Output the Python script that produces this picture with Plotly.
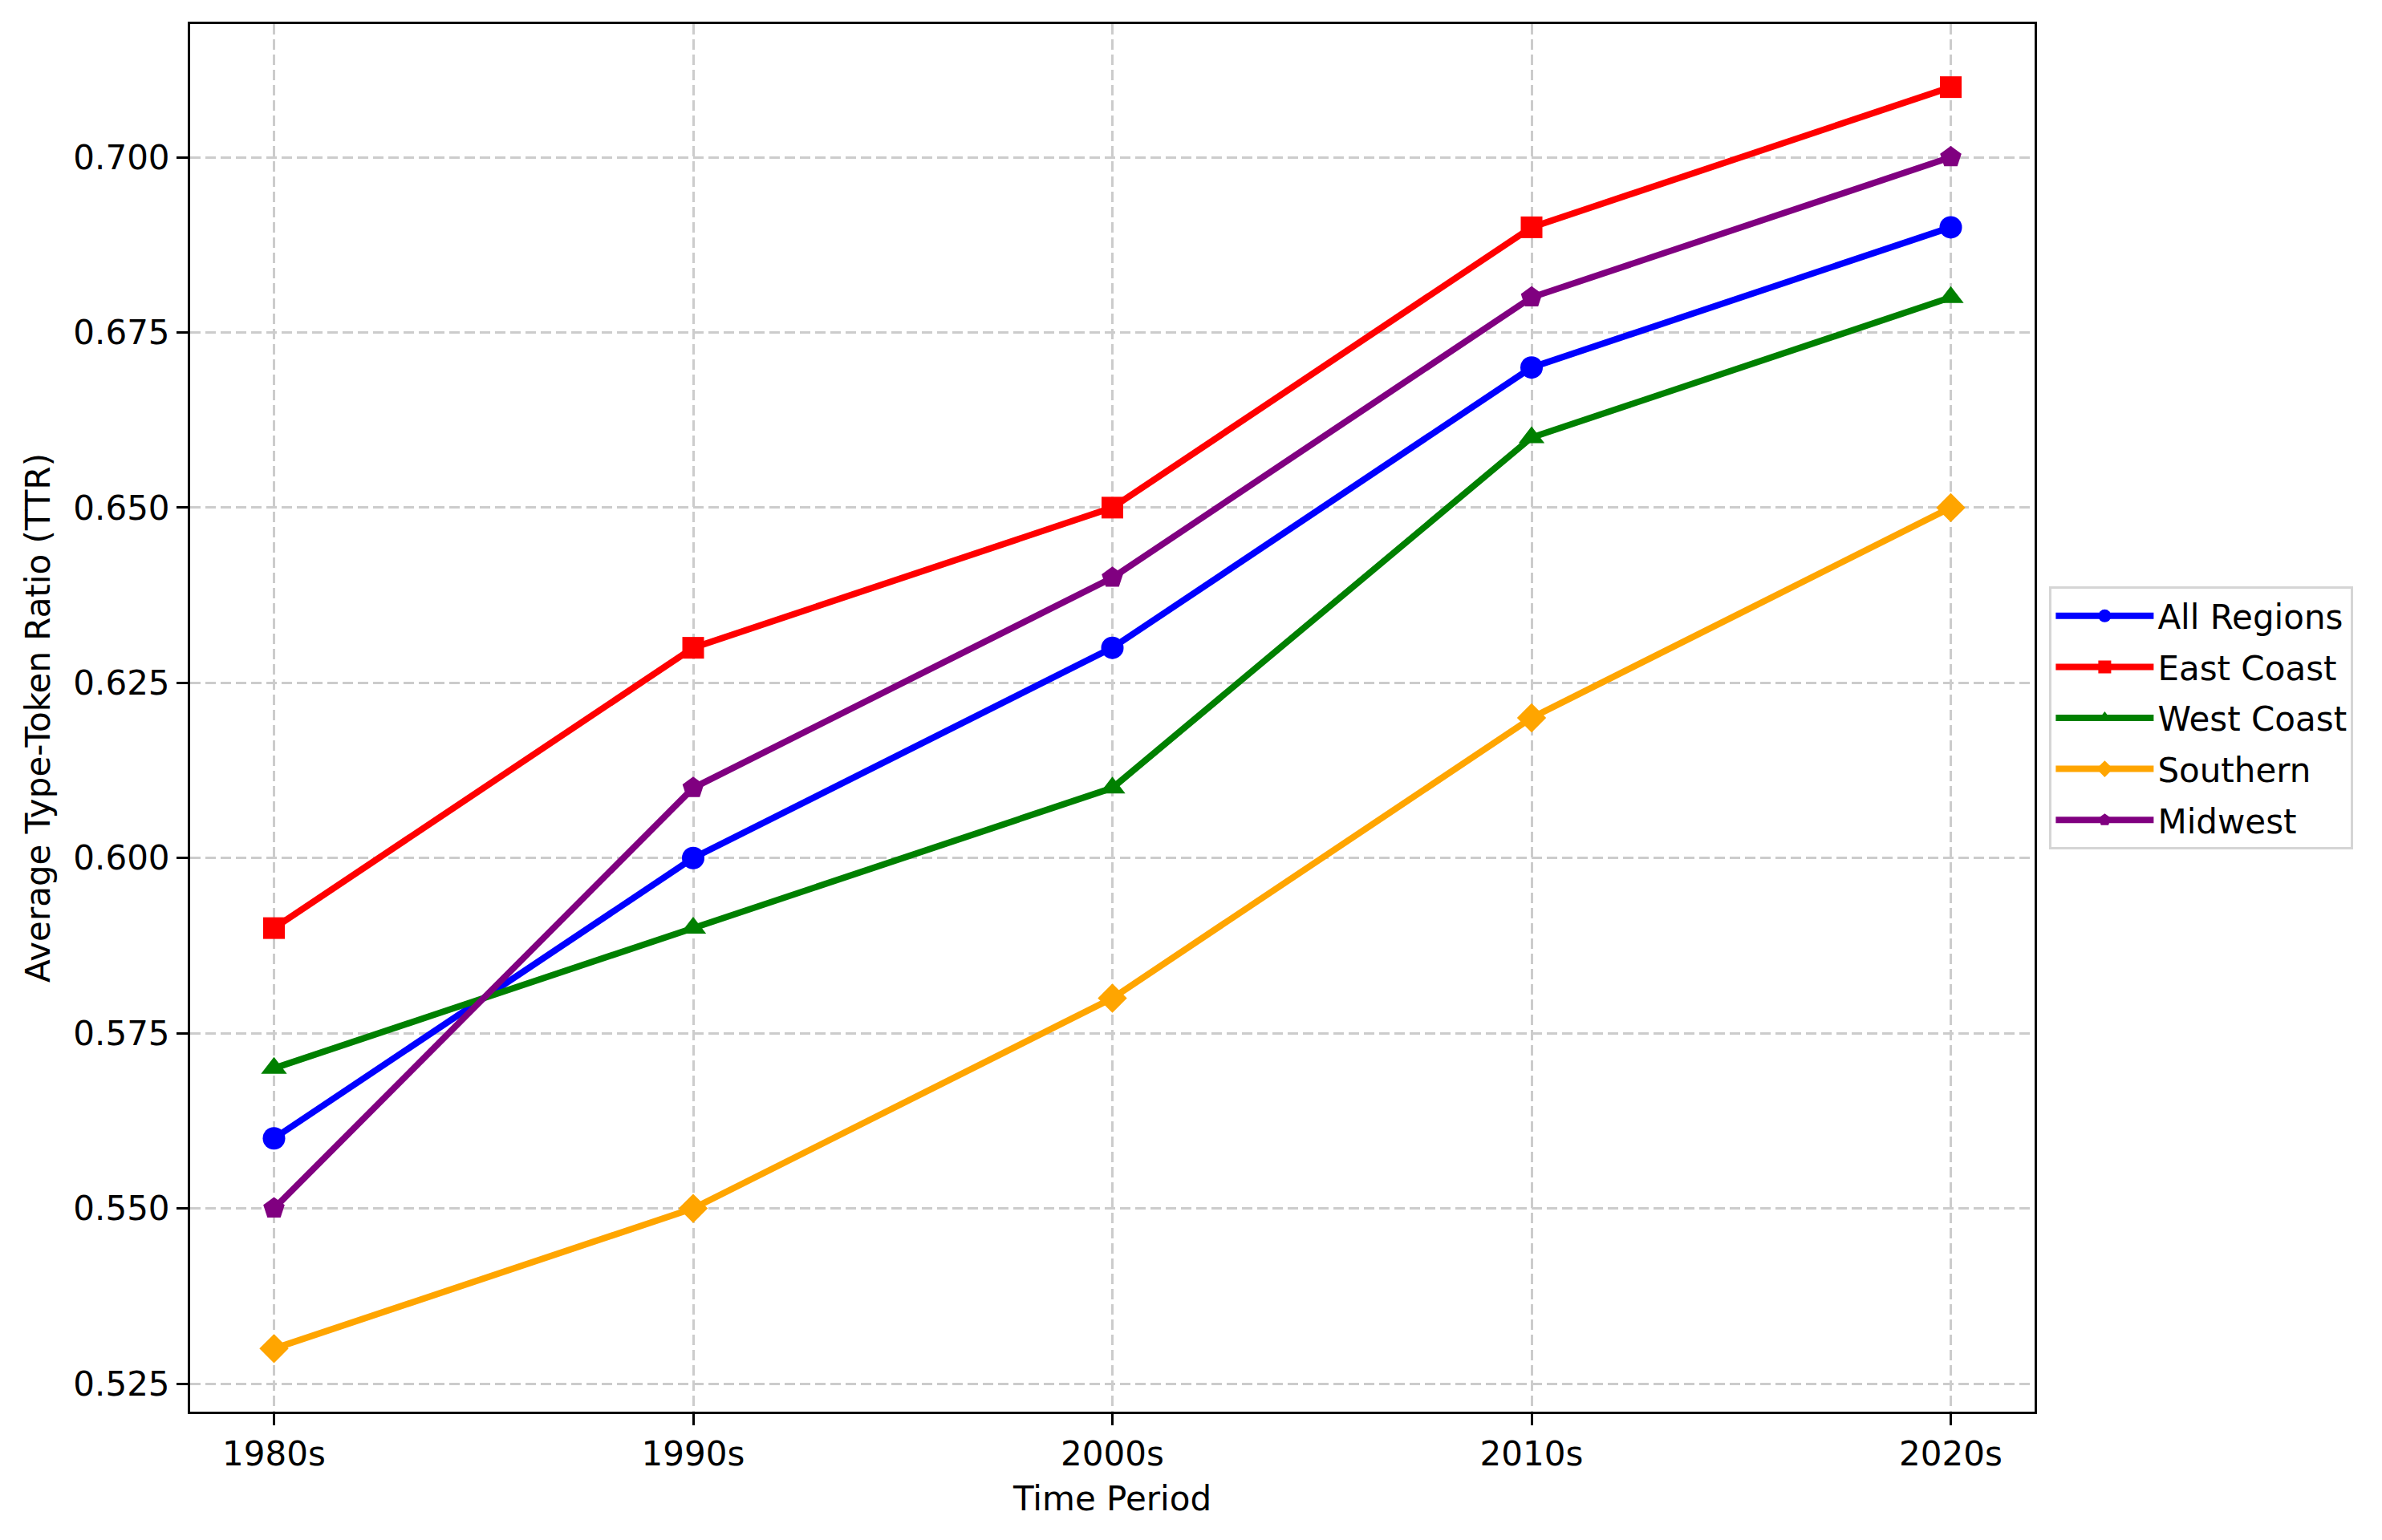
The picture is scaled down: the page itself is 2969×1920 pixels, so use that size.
import plotly.graph_objects as go

periods = ["1980s", "1990s", "2000s", "2010s", "2020s"]

all_regions = [0.56, 0.60, 0.63, 0.67, 0.69]
east_coast = [0.59, 0.63, 0.65, 0.69, 0.71]
west_coast = [0.57, 0.59, 0.61, 0.66, 0.68]
southern = [0.53, 0.55, 0.58, 0.62, 0.65]
midwest = [0.55, 0.61, 0.64, 0.68, 0.70]

FONT = "DejaVu Sans"

series = [
    ("All Regions", all_regions, "#0000ff", "circle", 28),
    ("East Coast", east_coast, "#ff0000", "square", 27),
    ("West Coast", west_coast, "#008000", "triangle-up", 28),
    ("Southern", southern, "#ffa500", "diamond", 28),
    ("Midwest", midwest, "#800080", "pentagon", 28),
]

fig = go.Figure()
for name, vals, color, symbol, size in series:
    fig.add_trace(go.Scatter(
        x=periods, y=vals, mode="lines+markers", name=name, legendgroup=name,
        line=dict(color=color, width=8),
        marker=dict(symbol=symbol, size=size, color=color, line=dict(width=0)),
    ))

axis_common = dict(
    showline=True, linecolor="black", linewidth=3, mirror=True,
    ticks="outside", ticklen=14, tickwidth=3, tickcolor="black",
    tickfont=dict(family=FONT, size=42, color="black"),
    showgrid=True, gridcolor="#cccccc", gridwidth=3, griddash="13px,6px",
    zeroline=False,
)

fig.update_xaxes(
    **axis_common, range=[-0.2, 4.2],
    title=dict(text="Time Period", font=dict(family=FONT, size=42, color="black"), standoff=18),
)
fig.update_yaxes(
    **axis_common, range=[0.521, 0.719], tick0=0.525, dtick=0.025, tickformat=".3f",
    title=dict(text="Average Type-Token Ratio (TTR)", font=dict(family=FONT, size=42, color="black"), standoff=16),
)

fig.update_layout(
    width=2969, height=1920,
    margin=dict(l=229, r=441, t=22, b=168),
    plot_bgcolor="white", paper_bgcolor="white",
    font=dict(family=FONT, size=42, color="black"),
    legend=dict(
        x=1.008, y=0.5, xanchor="left", yanchor="middle",
        bordercolor="#d5d5d5", borderwidth=3, bgcolor="white",
        font=dict(family=FONT, size=42), itemwidth=122, tracegroupgap=6,
    ),
)

fig.write_html("out.html")
